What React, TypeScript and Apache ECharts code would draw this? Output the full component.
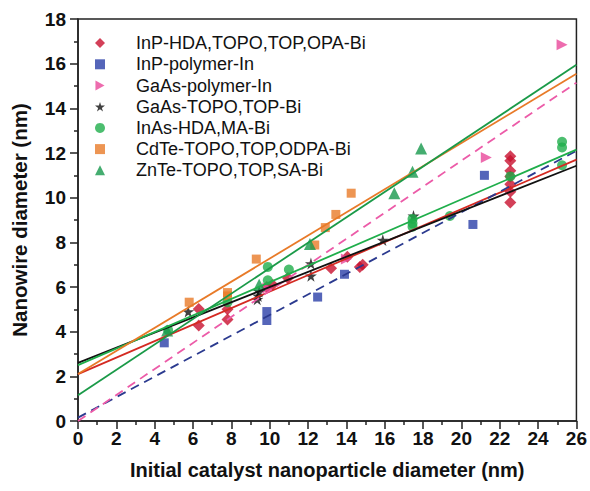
import React, { useEffect, useRef } from "react";
import * as echarts from "echarts";

const seriesNames = [
  "InP-HDA,TOPO,TOP,OPA-Bi",
  "InP-polymer-In",
  "GaAs-polymer-In",
  "GaAs-TOPO,TOP-Bi",
  "InAs-HDA,MA-Bi",
  "CdTe-TOPO,TOP,ODPA-Bi",
  "ZnTe-TOPO,TOP,SA-Bi",
];

const inpHda = [
  [6.3, 5.02], [6.3, 4.28], [7.8, 5.0], [7.8, 4.55], [9.85, 6.0], [10.15, 6.1],
  [10.95, 6.4], [13.2, 6.84], [14.05, 7.35], [14.7, 6.9], [14.85, 7.0],
  [22.55, 11.85], [22.55, 11.65], [22.55, 11.2], [22.55, 10.95], [22.55, 10.6],
  [22.55, 10.27], [22.55, 9.78],
];
const inpPolymer = [
  [4.5, 3.5], [9.85, 4.9], [9.85, 4.5], [12.5, 5.55], [13.9, 6.57], [20.6, 8.8], [21.2, 11.0],
];
const gaasPolymer = [
  [9.9, 5.95], [14.0, 7.25], [21.3, 11.8], [25.25, 16.85],
];
const gaasTopo = [
  [5.75, 4.9], [9.35, 5.45], [9.4, 5.6], [9.45, 5.8], [12.15, 7.05], [12.15, 6.5],
  [15.9, 8.1], [17.5, 9.18],
];
const inas = [
  [4.7, 4.07], [7.8, 5.32], [9.9, 6.9], [9.9, 6.3], [11.0, 6.78], [17.45, 9.05],
  [17.45, 8.85], [17.45, 8.7], [19.4, 9.18], [22.55, 10.95], [25.25, 12.5],
  [25.25, 12.25], [25.25, 11.45],
];
const cdte = [
  [5.8, 5.32], [7.8, 5.75], [7.8, 5.6], [9.3, 7.25], [12.35, 7.88], [12.9, 8.66],
  [13.45, 9.25], [14.25, 10.2],
];
const znte = [
  [4.65, 4.05], [9.45, 6.1], [12.1, 7.93], [16.5, 10.2], [17.45, 11.16], [17.9, 12.2],
];

// fitted lines: value at x = 0 and at x = 26
const fitX = [0, 26];
const fitStart = [2.1, 0.15, 0.0, 2.6, 2.5, 2.1, 1.15];
const fitEnd = [11.7, 12.1, 15.15, 11.43, 12.15, 15.55, 15.95];

const xTicks = [0, 26, 2];
const yTicks = [0, 18, 2];

const markerColors = ["#C8102E", "#2B3FA8", "#E8479A", "#111111", "#1FAE4B", "#E87A28", "#16994C"];
const lineColors = ["#D42A22", "#2B3A8F", "#EC5BA8", "#111111", "#1FAE4B", "#E87A28", "#1A9A48"];
const dashed = [false, true, true, false, false, false, false];

const STAR = "path://M50,0 L61,35 L98,35 L68,57 L79,91 L50,70 L21,91 L32,57 L2,35 L39,35 Z";
const RIGHT_TRI = "path://M0,0 L10,5.5 L0,11 Z";

const symbols = ["diamond", "rect", RIGHT_TRI, STAR, "circle", "rect", "triangle"];
const symbolSizes = [12, 9, 11, 12, 10, 9, 12];

const datasets = [inpHda, inpPolymer, gaasPolymer, gaasTopo, inas, cdte, znte];

export default function App() {
  const ref = useRef<HTMLDivElement>(null);
  useEffect(() => {
    if (!ref.current) return;
    const chart = echarts.init(ref.current, undefined, { renderer: "svg" });
    const font = "'Liberation Sans', Arial, Helvetica, sans-serif";
    const scatterSeries = datasets.map((d, i) => ({
      type: "scatter",
      name: seriesNames[i],
      data: d,
      symbol: symbols[i],
      symbolSize: symbolSizes[i],
      itemStyle: { color: markerColors[i] },
      z: 2,
    }));
    const lineSeries = fitStart.map((s, i) => ({
      type: "line",
      name: "fit" + i,
      data: [
        [fitX[0], s],
        [fitX[1], fitEnd[i]],
      ],
      showSymbol: false,
      symbol: "none",
      lineStyle: {
        color: lineColors[i],
        width: 1.8,
        type: dashed[i] ? [9, 6] : "solid",
      },
      z: 3,
      silent: true,
    }));
    const axisCommon = {
      axisLine: { show: true, lineStyle: { color: "#222", width: 1.5 } },
      axisTick: { show: true, inside: false, length: 8, lineStyle: { color: "#222", width: 1.5 } },
      minorTick: { show: true, splitNumber: 2, length: 4, lineStyle: { color: "#222", width: 1.5 } },
      splitLine: { show: false },
    };
    chart.setOption({
      animation: false,
      backgroundColor: "#ffffff",
      grid: {
        left: 78,
        right: 13,
        top: 19,
        bottom: 70,
        show: true,
        borderColor: "#222",
        borderWidth: 1.5,
        backgroundColor: "transparent",
      },
      legend: {
        data: seriesNames,
        orient: "vertical",
        left: 95,
        top: 32.5,
        padding: 0,
        itemWidth: 10,
        itemHeight: 10,
        itemGap: 0,
        textStyle: {
          fontFamily: font,
          fontSize: 18,
          color: "#111",
          lineHeight: 21.2,
          padding: [0, 0, 0, 26],
        },
      },
      xAxis: {
        type: "value",
        min: xTicks[0],
        max: xTicks[1],
        interval: xTicks[2],
        name: "Initial catalyst nanoparticle diameter (nm)",
        nameLocation: "middle",
        nameGap: 39,
        nameTextStyle: { fontFamily: font, fontSize: 20, fontWeight: "bold", color: "#111" },
        axisLabel: { fontFamily: font, fontSize: 19, fontWeight: "bold", color: "#111", margin: 8 },
        ...axisCommon,
      },
      yAxis: {
        type: "value",
        min: yTicks[0],
        max: yTicks[1],
        interval: yTicks[2],
        name: "Nanowire diameter (nm)",
        nameLocation: "middle",
        nameGap: 48,
        nameTextStyle: { fontFamily: font, fontSize: 20.5, fontWeight: "bold", color: "#111" },
        axisLabel: { fontFamily: font, fontSize: 19, fontWeight: "bold", color: "#111", margin: 12 },
        ...axisCommon,
      },
      series: [...scatterSeries, ...lineSeries],
    });
    return () => chart.dispose();
  }, []);
  return (
    <div
      ref={ref}
      style={{ position: "fixed", left: 0, top: 0, width: 590, height: 491, background: "#fff" }}
    />
  );
}
